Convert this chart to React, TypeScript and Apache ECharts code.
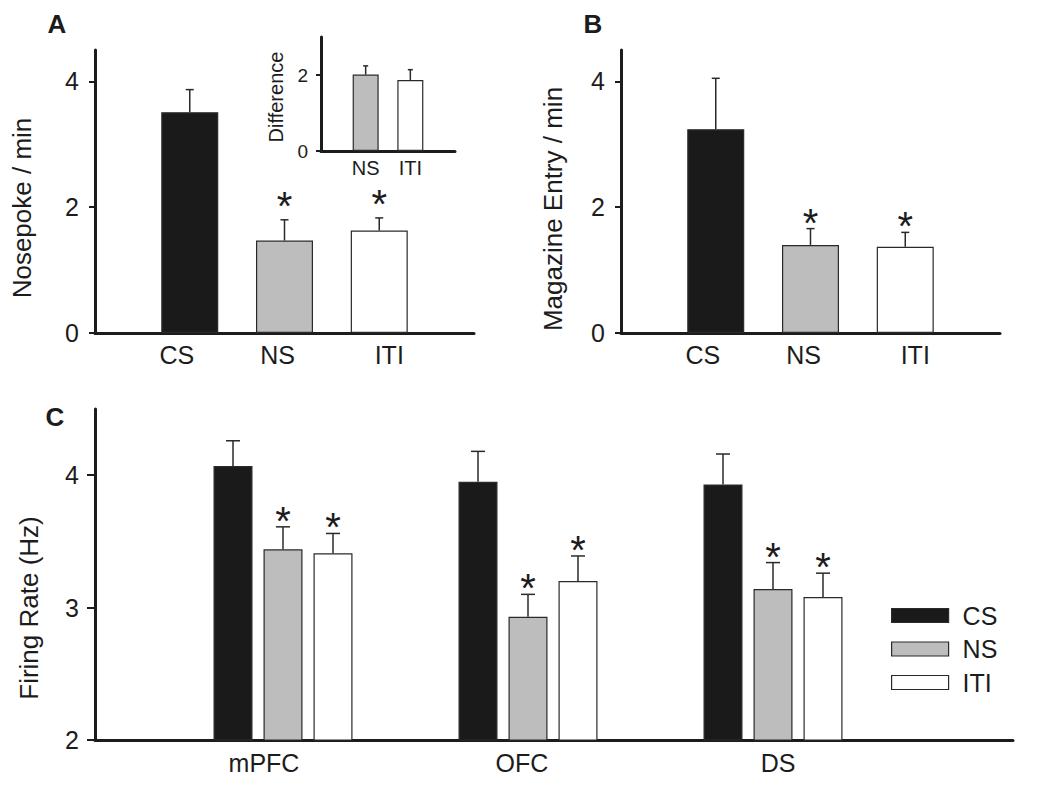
import React, { useEffect, useRef } from 'react';
import * as echarts from 'echarts';

// ---------- data ----------
const categories = ['CS', 'NS', 'ITI'];
const nosepokeRate = [3.51, 1.47, 1.63];
const nosepokeErr = [0.36, 0.33, 0.2];
const magazineRate = [3.24, 1.4, 1.37];
const magazineErr = [0.81, 0.26, 0.23];
const significantAB = [0, 1, 1];

const insetCategories = ['NS', 'ITI'];
const differenceValues = [2.01, 1.87];
const differenceErr = [0.23, 0.27];

const regions = ['mPFC', 'OFC', 'DS'];
const firingCS = [4.07, 3.95, 3.93];
const firingCSErr = [0.19, 0.23, 0.23];
const firingNS = [3.44, 2.93, 3.14];
const firingNSErr = [0.17, 0.17, 0.2];
const firingITI = [3.41, 3.2, 3.08];
const firingITIErr = [0.15, 0.19, 0.18];
const firingSig = [0, 1, 1]; // per condition (CS, NS, ITI)

const ticksAB = [0, 2, 4];
const ticksInset = [0, 2];
const ticksC = [2, 3, 4];

// ---------- styles ----------
const INK = '#1c1c1c';
const EDGE = '#2a2a2a';
const FILLS = ['#1a1a1a', '#bdbdbd', '#ffffff'];
const FONT = '"Liberation Sans", Arial, Helvetica, sans-serif';
const BAR_W_C = 39;
const BAR_GAP_C = 11;
// horizontal nudges of category labels (px), as in the original layout
const LABEL_SHIFT_AB = [0, -13, -7, 10, 0];
const LABEL_SHIFT_C = [-19, -6, 5];

function shiftedLabels(shifts: number[], fontSize: number) {
  const rich: Record<string, any> = {};
  shifts.forEach((s, i) => {
    rich['l' + i] = {
      fontSize,
      color: INK,
      fontFamily: FONT,
      padding: s < 0 ? [0, -2 * s, 0, 0] : [0, 0, 0, 2 * s],
    };
  });
  return {
    formatter: (value: string, index: number) => (value ? `{l${index}|${value}}` : ''),
    rich,
  };
}

function valueAxis(grid: number, min: number, max: number, interval: number, ticks: number[], fontSize: number, tickLen: number, margin: number, show = true) {
  return {
    type: 'value',
    gridIndex: grid,
    min,
    max,
    interval,
    show,
    axisLine: { show: true, lineStyle: { color: INK, width: 3 } },
    axisTick: { show: true, length: tickLen, customValues: ticks, lineStyle: { color: INK, width: 2 } },
    axisLabel: { customValues: ticks, fontSize, color: INK, fontFamily: FONT, margin },
    splitLine: { show: false },
  };
}

function paddedCategoryAxis(grid: number, cats: string[], fontSize: number, margin: number, shifts?: number[]) {
  return {
    type: 'category',
    gridIndex: grid,
    data: ['', ...cats, ''],
    boundaryGap: false,
    axisLine: { show: true, lineStyle: { color: INK, width: 3 } },
    axisTick: { show: false },
    axisLabel: {
      fontSize,
      color: INK,
      fontFamily: FONT,
      margin,
      interval: 0,
      ...(shifts ? shiftedLabels(shifts, fontSize) : {}),
    },
    splitLine: { show: false },
  };
}

function errorBars(xIdx: number, yIdx: number, data: number[][], offsetPx: number, capW: number, starSize: number, starGap: number) {
  return {
    type: 'custom',
    xAxisIndex: xIdx,
    yAxisIndex: yIdx,
    z: 5,
    silent: true,
    data,
    renderItem: (_params: any, api: any) => {
      const cat = api.value(0);
      const v = api.value(1);
      const e = api.value(2);
      const sig = api.value(3);
      const p0 = api.coord([cat, v]);
      const p1 = api.coord([cat, v + e]);
      const x = p0[0] + offsetPx;
      const children: any[] = [
        { type: 'line', shape: { x1: x, y1: p0[1], x2: x, y2: p1[1] }, style: { stroke: EDGE, lineWidth: 1.5 } },
        { type: 'line', shape: { x1: x - capW / 2, y1: p1[1], x2: x + capW / 2, y2: p1[1] }, style: { stroke: EDGE, lineWidth: 1.5 } },
      ];
      if (sig) {
        children.push({
          type: 'text',
          x,
          y: p1[1] - starGap,
          style: { text: '*', fontSize: starSize, fontFamily: FONT, fill: INK, align: 'center', verticalAlign: 'bottom' },
        });
      }
      return { type: 'group', children };
    },
  };
}

function coloredBars(xIdx: number, yIdx: number, name: string, values: number[], barWidth: number, offsetIndex: number, colorOffset: number) {
  return {
    type: 'bar',
    name,
    xAxisIndex: xIdx,
    yAxisIndex: yIdx,
    barWidth,
    data: values.map((v, i) => ({ value: [i + offsetIndex, v], itemStyle: { color: FILLS[i + colorOffset] } })),
    itemStyle: { borderColor: EDGE, borderWidth: 1.2 },
  };
}

function buildOption() {
  const grids = [
    { left: 95, top: 50, width: 379, height: 283 }, // A
    { left: 321, top: 37, width: 134, height: 114 }, // inset
    { left: 621, top: 50, width: 379, height: 283 }, // B
    { left: 95, top: 409, width: 918, height: 331 }, // C axes
    { left: 160.5, top: 409, width: 735, height: 331 }, // C bars
  ];

  const xAxes: any[] = [
    paddedCategoryAxis(0, categories, 25, 9, LABEL_SHIFT_AB),
    paddedCategoryAxis(1, insetCategories, 20, 7),
    paddedCategoryAxis(2, categories, 25, 9, LABEL_SHIFT_AB),
    {
      type: 'value', gridIndex: 3, min: 0, max: 1,
      axisLine: { show: true, lineStyle: { color: INK, width: 3 } },
      axisTick: { show: false }, axisLabel: { show: false }, splitLine: { show: false },
    },
    {
      type: 'category', gridIndex: 4, data: regions,
      axisLine: { show: false }, axisTick: { show: false },
      axisLabel: { fontSize: 25, color: INK, fontFamily: FONT, margin: 10, interval: 0, ...shiftedLabels(LABEL_SHIFT_C, 25) },
      splitLine: { show: false },
    },
  ];

  const yAxes: any[] = [
    valueAxis(0, 0, 4.5, 2, ticksAB, 25, 6, 16),
    valueAxis(1, 0, 3, 2, ticksInset, 19, 5, 13),
    valueAxis(2, 0, 4.5, 2, ticksAB, 25, 6, 16),
    valueAxis(3, 2, 4.5, 1, ticksC, 25, 8, 16),
    valueAxis(4, 2, 4.5, 1, ticksC, 25, 8, 16, false),
  ];

  const cData = [firingCS, firingNS, firingITI];
  const cErr = [firingCSErr, firingNSErr, firingITIErr];

  const series: any[] = [
    coloredBars(0, 0, 'Nosepoke / min', nosepokeRate, 57, 1, 0),
    errorBars(0, 0, categories.map((_, i) => [i + 1, nosepokeRate[i], nosepokeErr[i], significantAB[i]]), 0, 8, 40, -6),
    coloredBars(1, 1, 'Difference', differenceValues, 26, 1, 1),
    errorBars(1, 1, insetCategories.map((_, i) => [i + 1, differenceValues[i], differenceErr[i], 0]), 0, 5, 20, 2),
    coloredBars(2, 2, 'Magazine Entry / min', magazineRate, 57, 1, 0),
    errorBars(2, 2, categories.map((_, i) => [i + 1, magazineRate[i], magazineErr[i], significantAB[i]]), 0, 8, 40, -14),
  ];

  categories.forEach((cond, k) => {
    series.push({
      type: 'bar',
      name: cond,
      xAxisIndex: 4,
      yAxisIndex: 4,
      barWidth: BAR_W_C,
      barGap: `${(BAR_GAP_C / BAR_W_C) * 100}%`,
      data: cData[k],
      itemStyle: { color: FILLS[k], borderColor: EDGE, borderWidth: 1.2 },
    });
  });
  categories.forEach((_, k) => {
    series.push(
      errorBars(
        4,
        4,
        regions.map((_, i) => [i, cData[k][i], cErr[k][i], firingSig[k]]),
        (k - 1) * (BAR_W_C + BAR_GAP_C),
        14,
        40,
        -14,
      ),
    );
  });

  const titleText = (text: string, x: number, y: number, size: number, bold = false, rotate = 0) => ({
    type: 'text',
    x,
    y,
    rotation: rotate,
    style: {
      text,
      fill: INK,
      fontSize: size,
      fontWeight: bold ? 'bold' : 'normal',
      fontFamily: FONT,
      align: 'center',
      verticalAlign: 'middle',
    },
  });

  return {
    animation: false,
    backgroundColor: '#ffffff',
    grid: grids,
    xAxis: xAxes,
    yAxis: yAxes,
    series,
    legend: {
      data: categories,
      orient: 'vertical',
      left: 891,
      top: 603,
      padding: 0,
      itemWidth: 57,
      itemHeight: 14,
      itemGap: 8.5,
      icon: 'rect',
      selectedMode: false,
      itemStyle: { borderColor: EDGE, borderWidth: 1.2 },
      textStyle: { fontSize: 25, color: INK, fontFamily: FONT, lineHeight: 24, padding: [0, 0, 0, 9] },
    },
    graphic: [
      titleText('A', 57, 24, 26, true),
      titleText('B', 593, 24, 26, true),
      titleText('C', 55, 417, 26, true),
      titleText('Nosepoke / min', 22, 208, 26, false, Math.PI / 2),
      titleText('Magazine Entry / min', 553, 209, 26, false, Math.PI / 2),
      titleText('Firing Rate (Hz)', 29, 608, 26, false, Math.PI / 2),
      titleText('Difference', 276, 97, 20, false, Math.PI / 2),
    ],
  };
}

export default function App() {
  const ref = useRef<HTMLDivElement>(null);
  useEffect(() => {
    if (!ref.current) return;
    const chart = echarts.init(ref.current, undefined, { renderer: 'svg' });
    chart.setOption(buildOption() as any);
    return () => chart.dispose();
  }, []);
  return (
    <div
      ref={ref}
      style={{ position: 'absolute', left: 0, top: 0, width: 1050, height: 794, background: '#ffffff' }}
    />
  );
}
